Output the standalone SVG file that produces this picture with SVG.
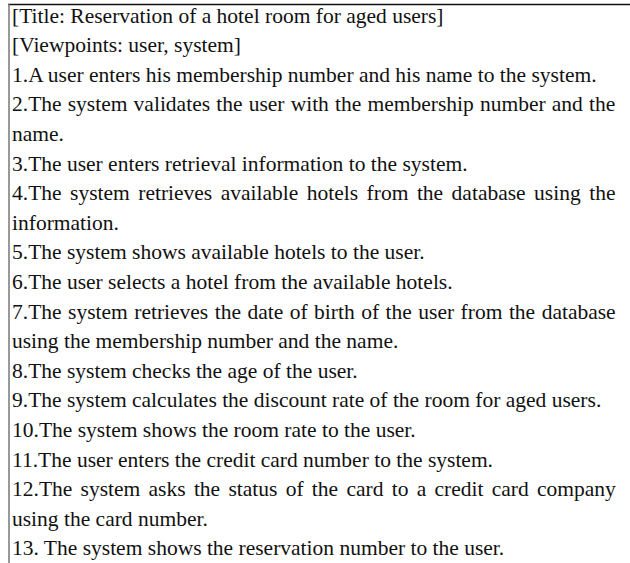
<svg xmlns="http://www.w3.org/2000/svg" width="630" height="563" viewBox="0 0 630 563">
<style>
text{font-family:"Liberation Serif","Times New Roman",serif;font-size:21.5px;fill:#111}
</style>
<rect width="630" height="563" fill="#fff"/>
<line x1="8" y1="4.5" x2="630" y2="4.5" stroke="#111" stroke-width="1.5"/>
<line x1="9" y1="4" x2="9" y2="563" stroke="#777" stroke-width="1.5"/>
<g id="text">
<text x="12" y="22.5">[Title: Reservation of a hotel room for aged users]</text>
<text x="12" y="52.1">[Viewpoints: user, system]</text>
<text x="12" y="81.7">1.A user enters his membership number and his name to the system.</text>
<text x="12" y="111.3" word-spacing="0.8">2.The system validates the user with the membership number and the</text>
<text x="12" y="140.9">name.</text>
<text x="12" y="170.5">3.The user enters retrieval information to the system.</text>
<text x="12" y="200.1" word-spacing="3.1">4.The system retrieves available hotels from the database using the</text>
<text x="12" y="229.7">information.</text>
<text x="12" y="259.3">5.The system shows available hotels to the user.</text>
<text x="12" y="288.9">6.The user selects a hotel from the available hotels.</text>
<text x="12" y="318.5" word-spacing="1.1">7.The system retrieves the date of birth of the user from the database</text>
<text x="12" y="348.1">using the membership number and the name.</text>
<text x="12" y="377.7">8.The system checks the age of the user.</text>
<text x="12" y="407.3">9.The system calculates the discount rate of the room for aged users.</text>
<text x="12" y="436.9">10.The system shows the room rate to the user.</text>
<text x="12" y="466.5">11.The user enters the credit card number to the system.</text>
<text x="12" y="496.1" word-spacing="2.9">12.The system asks the status of the card to a credit card company</text>
<text x="12" y="525.7">using the card number.</text>
<text x="12" y="555.3">13. The system shows the reservation number to the user.</text>
</g>
</svg>
